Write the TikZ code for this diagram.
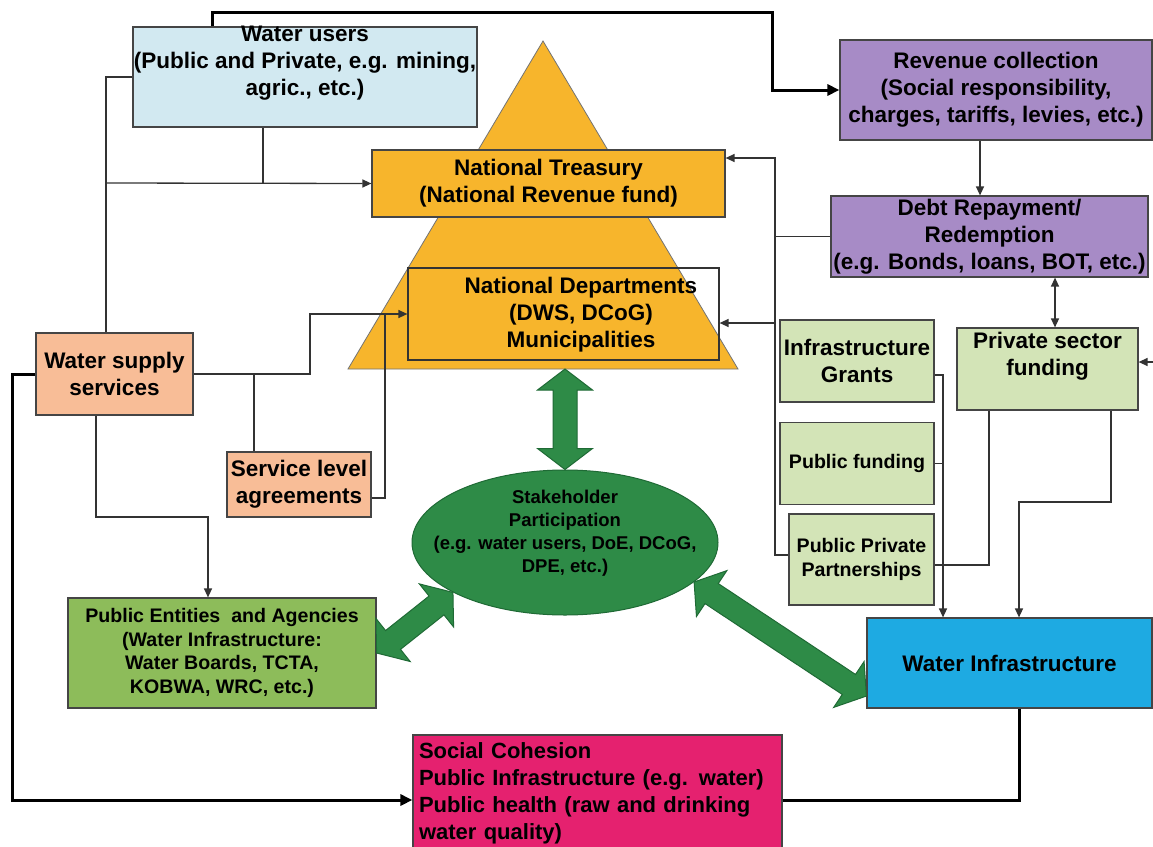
\documentclass[tikz,border=0pt]{standalone}
\usepackage{fontspec}
\setmainfont{Liberation Sans}
\usepackage{tikz}
\usetikzlibrary{shapes.geometric,arrows.meta,positioning,calc}

\definecolor{usersblue}{HTML}{D2E9F1}
\definecolor{treasuryorange}{HTML}{F7B52C}
\definecolor{revpurple}{HTML}{A78BC6}
\definecolor{supplypeach}{HTML}{F8BD97}
\definecolor{agencygreen}{HTML}{8DBC5A}
\definecolor{fundgreen}{HTML}{D3E4B7}
\definecolor{stakegreen}{HTML}{2E8B47}
\definecolor{stakeedge}{HTML}{1F6A35}
\definecolor{infrablue}{HTML}{1EAAE2}
\definecolor{cohesionpink}{HTML}{E5216F}
\definecolor{boxline}{HTML}{454545}
\definecolor{linegray}{HTML}{333333}

\newcommand{\bigtext}{\fontsize{22.5}{27}\selectfont\bfseries}
\newcommand{\smalltext}{\fontsize{19.6}{23.5}\selectfont\bfseries}
\newcommand{\staketext}{\fontsize{18.5}{23}\selectfont\bfseries}
\newcommand{\cohesiontext}{\fontsize{22}{27}\selectfont\bfseries\hyphenpenalty=10000}

% wide green double arrow between two points
\newcommand{\greenlink}[2]{%
  \draw[greenflow] (#1)
    -- ($(#1)!21pt!(#2)!27.5pt!90:(#2)$) -- ($(#1)!21pt!(#2)!12pt!90:(#2)$)
    -- ($(#2)!21pt!(#1)!12pt!-90:(#1)$) -- ($(#2)!21pt!(#1)!27.5pt!-90:(#1)$)
    -- (#2)
    -- ($(#2)!21pt!(#1)!27.5pt!90:(#1)$) -- ($(#2)!21pt!(#1)!12pt!90:(#1)$)
    -- ($(#1)!21pt!(#2)!12pt!-90:(#2)$) -- ($(#1)!21pt!(#2)!27.5pt!-90:(#2)$)
    -- cycle;}

\begin{document}
\begin{tikzpicture}[x=1pt, y=-1pt,
    >={Triangle[length=9pt,width=8pt]},
    box/.style={rectangle, draw=boxline, line width=1.2pt, inner sep=0pt, align=center, font=\bigtext},
    usersbox/.style={box, fill=usersblue, minimum width=344, minimum height=100},
    treasurybox/.style={box, fill=treasuryorange, minimum width=353, minimum height=67},
    deptbox/.style={box, draw=black!80, minimum width=311, minimum height=92},
    revbox/.style={box, fill=revpurple},
    supplybox/.style={box, fill=supplypeach},
    agencybox/.style={box, fill=agencygreen, font=\smalltext, minimum width=308, minimum height=110},
    fundbox/.style={box, fill=fundgreen},
    infrabox/.style={box, fill=infrablue, minimum width=285, minimum height=90},
    cohesionbox/.style={box, fill=cohesionpink, font=\cohesiontext, text width=357, inner xsep=6pt, align=left, minimum height=117},
    stakeellipse/.style={ellipse, fill=stakegreen, draw=stakeedge, line width=1pt, minimum width=306, minimum height=145, inner sep=0pt},
    textonly/.style={align=center, inner sep=0pt, font=\bigtext},
    pyramid/.style={fill=treasuryorange, draw=black!55, line width=0.8pt},
    greenflow/.style={fill=stakegreen, draw=stakeedge, line width=1pt},
    link/.style={draw=linegray, line width=1.3pt},
    flow/.style={link, ->},
    thickline/.style={draw=black, line width=3pt},
    thickflow/.style={thickline, -{Triangle[length=12pt,width=11pt]}}
  ]
  \useasboundingbox[fill=white] (0,0) rectangle (1153,846);

  % pyramid
  \coordinate (apex) at (543,41);
  \coordinate (baseL) at (348,369);
  \coordinate (baseR) at (738,369);
  \coordinate (pyrbase) at (565,369);
  \filldraw[pyramid] (apex) -- (baseR) -- (baseL) -- cycle;

  % boxes
  \node[usersbox] (wusers) at (305,77) {};
  \node[textonly] (wuserstext) at (305,63) {Water users\\(Public and Private, e.g. mining,\\agric., etc.)};
  \node[treasurybox] (treasury) at (548.5,183.5) {National Treasury\\(National Revenue fund)};
  \node[deptbox] (natdep) at (563.5,314) {};
  \node[textonly] (natdeptext) at (581,315) {National Departments\\(DWS, DCoG)\\Municipalities};
  \node[revbox, minimum width=312, minimum height=100] (revenue) at (996,90) {Revenue collection\\(Social responsibility,\\charges, tariffs, levies, etc.)};
  \node[revbox, minimum width=317, minimum height=81] (debt) at (989.5,236.5) {Debt Repayment/\\Redemption\\(e.g. Bonds, loans, BOT, etc.)};
  \node[supplybox, minimum width=157, minimum height=82] (wss) at (114.5,374) {Water supply\\services};
  \node[supplybox, minimum width=144, minimum height=65] (sla) at (299,484.5) {Service level\\agreements};
  \node[agencybox] (agencies) at (222,653) {Public Entities~ and Agencies\\(Water Infrastructure:\\Water Boards, TCTA,\\KOBWA, WRC, etc.)};
  \node[fundbox, minimum width=154, minimum height=82] (grants) at (857,361) {Infrastructure\\Grants};
  \node[fundbox, font=\smalltext, minimum width=154, minimum height=82, below=19pt of grants] (pubfund) {Public funding};
  \node[fundbox, font=\smalltext, minimum width=145, minimum height=91] (ppp) at (861.5,559.5) {Public Private\\Partnerships};
  \node[fundbox, minimum width=181, minimum height=82] (psf) at (1047.5,369) {};
  \node[textonly] (psftext) at (1047.5,356.5) {Private sector\\funding};
  \node[infrabox] (water) at (1009.5,663) {Water Infrastructure};
  \node[cohesionbox] (cohesion) at (597.5,793.5) {Social Cohesion\\Public Infrastructure (e.g. water)\\Public health (raw and drinking\\water quality)};
  \node[stakeellipse] (stake) at (565,542.5) {};
  \node[textonly, font=\staketext] (staketext) at (565,533.5) {Stakeholder\\Participation\\(e.g. water users, DoE, DCoG,\\DPE, etc.)};

  % bends of the connectors
  \coordinate (wutop) at (212,12);
  \coordinate (revbend) at (772,12);
  \coordinate (wubus) at (106,183);
  \coordinate (wudrop) at (263,183);
  \coordinate (ndbend) at (310,314);
  \coordinate (slajoin) at (254,374);
  \coordinate (slaup) at (385,498);
  \coordinate (wssdrop) at (96,517);
  \coordinate (pedrop) at (208,517);
  \coordinate (sclow) at (12,800);
  \coordinate (wilow) at (1019,800);
  \coordinate (finbus) at (775,555);
  \coordinate (ntin) at (775,158);
  \coordinate (ndin) at (775,323);
  \coordinate (revdrop) at (980,168);
  \coordinate (debtlink) at (1055,300);
  \coordinate (edge) at (1153,362);
  \coordinate (grantbus) at (943,375);
  \coordinate (pspdrop) at (989,565);
  \coordinate (psfdrop) at (1111,502);
  \coordinate (wiin) at (1019,502);

  % connectors
  \draw[thickflow] (wutop |- wusers.north) -- (wutop) -- (revbend) |- (revenue.west);
  \draw[link] (wubus |- wss.north) |- (wusers.west);
  \draw[flow] (wubus) -- (treasury.west);
  \draw[link] (wudrop |- wusers.south) -- (wudrop);
  \draw[flow] (wss.east) -| (ndbend) -- (natdep.west);
  \draw[link] (slajoin) -- (slajoin |- sla.north);
  \draw[link] (slaup -| sla.east) -- (slaup) -- (slaup |- ndbend);
  \draw[flow] (wssdrop |- wss.south) -- (wssdrop) -- (pedrop) -- (pedrop |- agencies.north);
  \draw[thickflow] (wss.west) -| (sclow) -- (sclow -| cohesion.west);
  \draw[thickline] (wilow |- water.south) -- (wilow) -- (wilow -| cohesion.east);
  \draw[flow] (revdrop |- revenue.south) -- (revdrop |- debt.north);
  \draw[flow] (finbus -| ppp.west) -- (finbus) -- (ntin) -- (ntin -| treasury.east);
  \draw[flow] (ndin) -- (ndin -| natdep.east);
  \draw[link] (finbus |- debt.west) -- (debt.west);
  \draw[link, <->] (debtlink |- debt.south) -- (debtlink |- psf.north);
  \draw[flow] (edge) -- (edge -| psf.east);
  \draw[flow] (grantbus -| grants.east) -- (grantbus) -- (grantbus |- water.north);
  \draw[link] (pubfund.east) -- (pubfund.east -| grantbus);
  \draw[link] (pspdrop |- psf.south) -- (pspdrop) -- (pspdrop -| ppp.east);
  \draw[flow] (psfdrop |- psf.south) -- (psfdrop) -- (wiin) -- (wiin |- water.north);

  % participation arrows
  \greenlink{pyrbase}{stake.north}
  \greenlink{agencies.east}{stake.204}
  \greenlink{stake.343}{water.193}
\end{tikzpicture}
\end{document}
